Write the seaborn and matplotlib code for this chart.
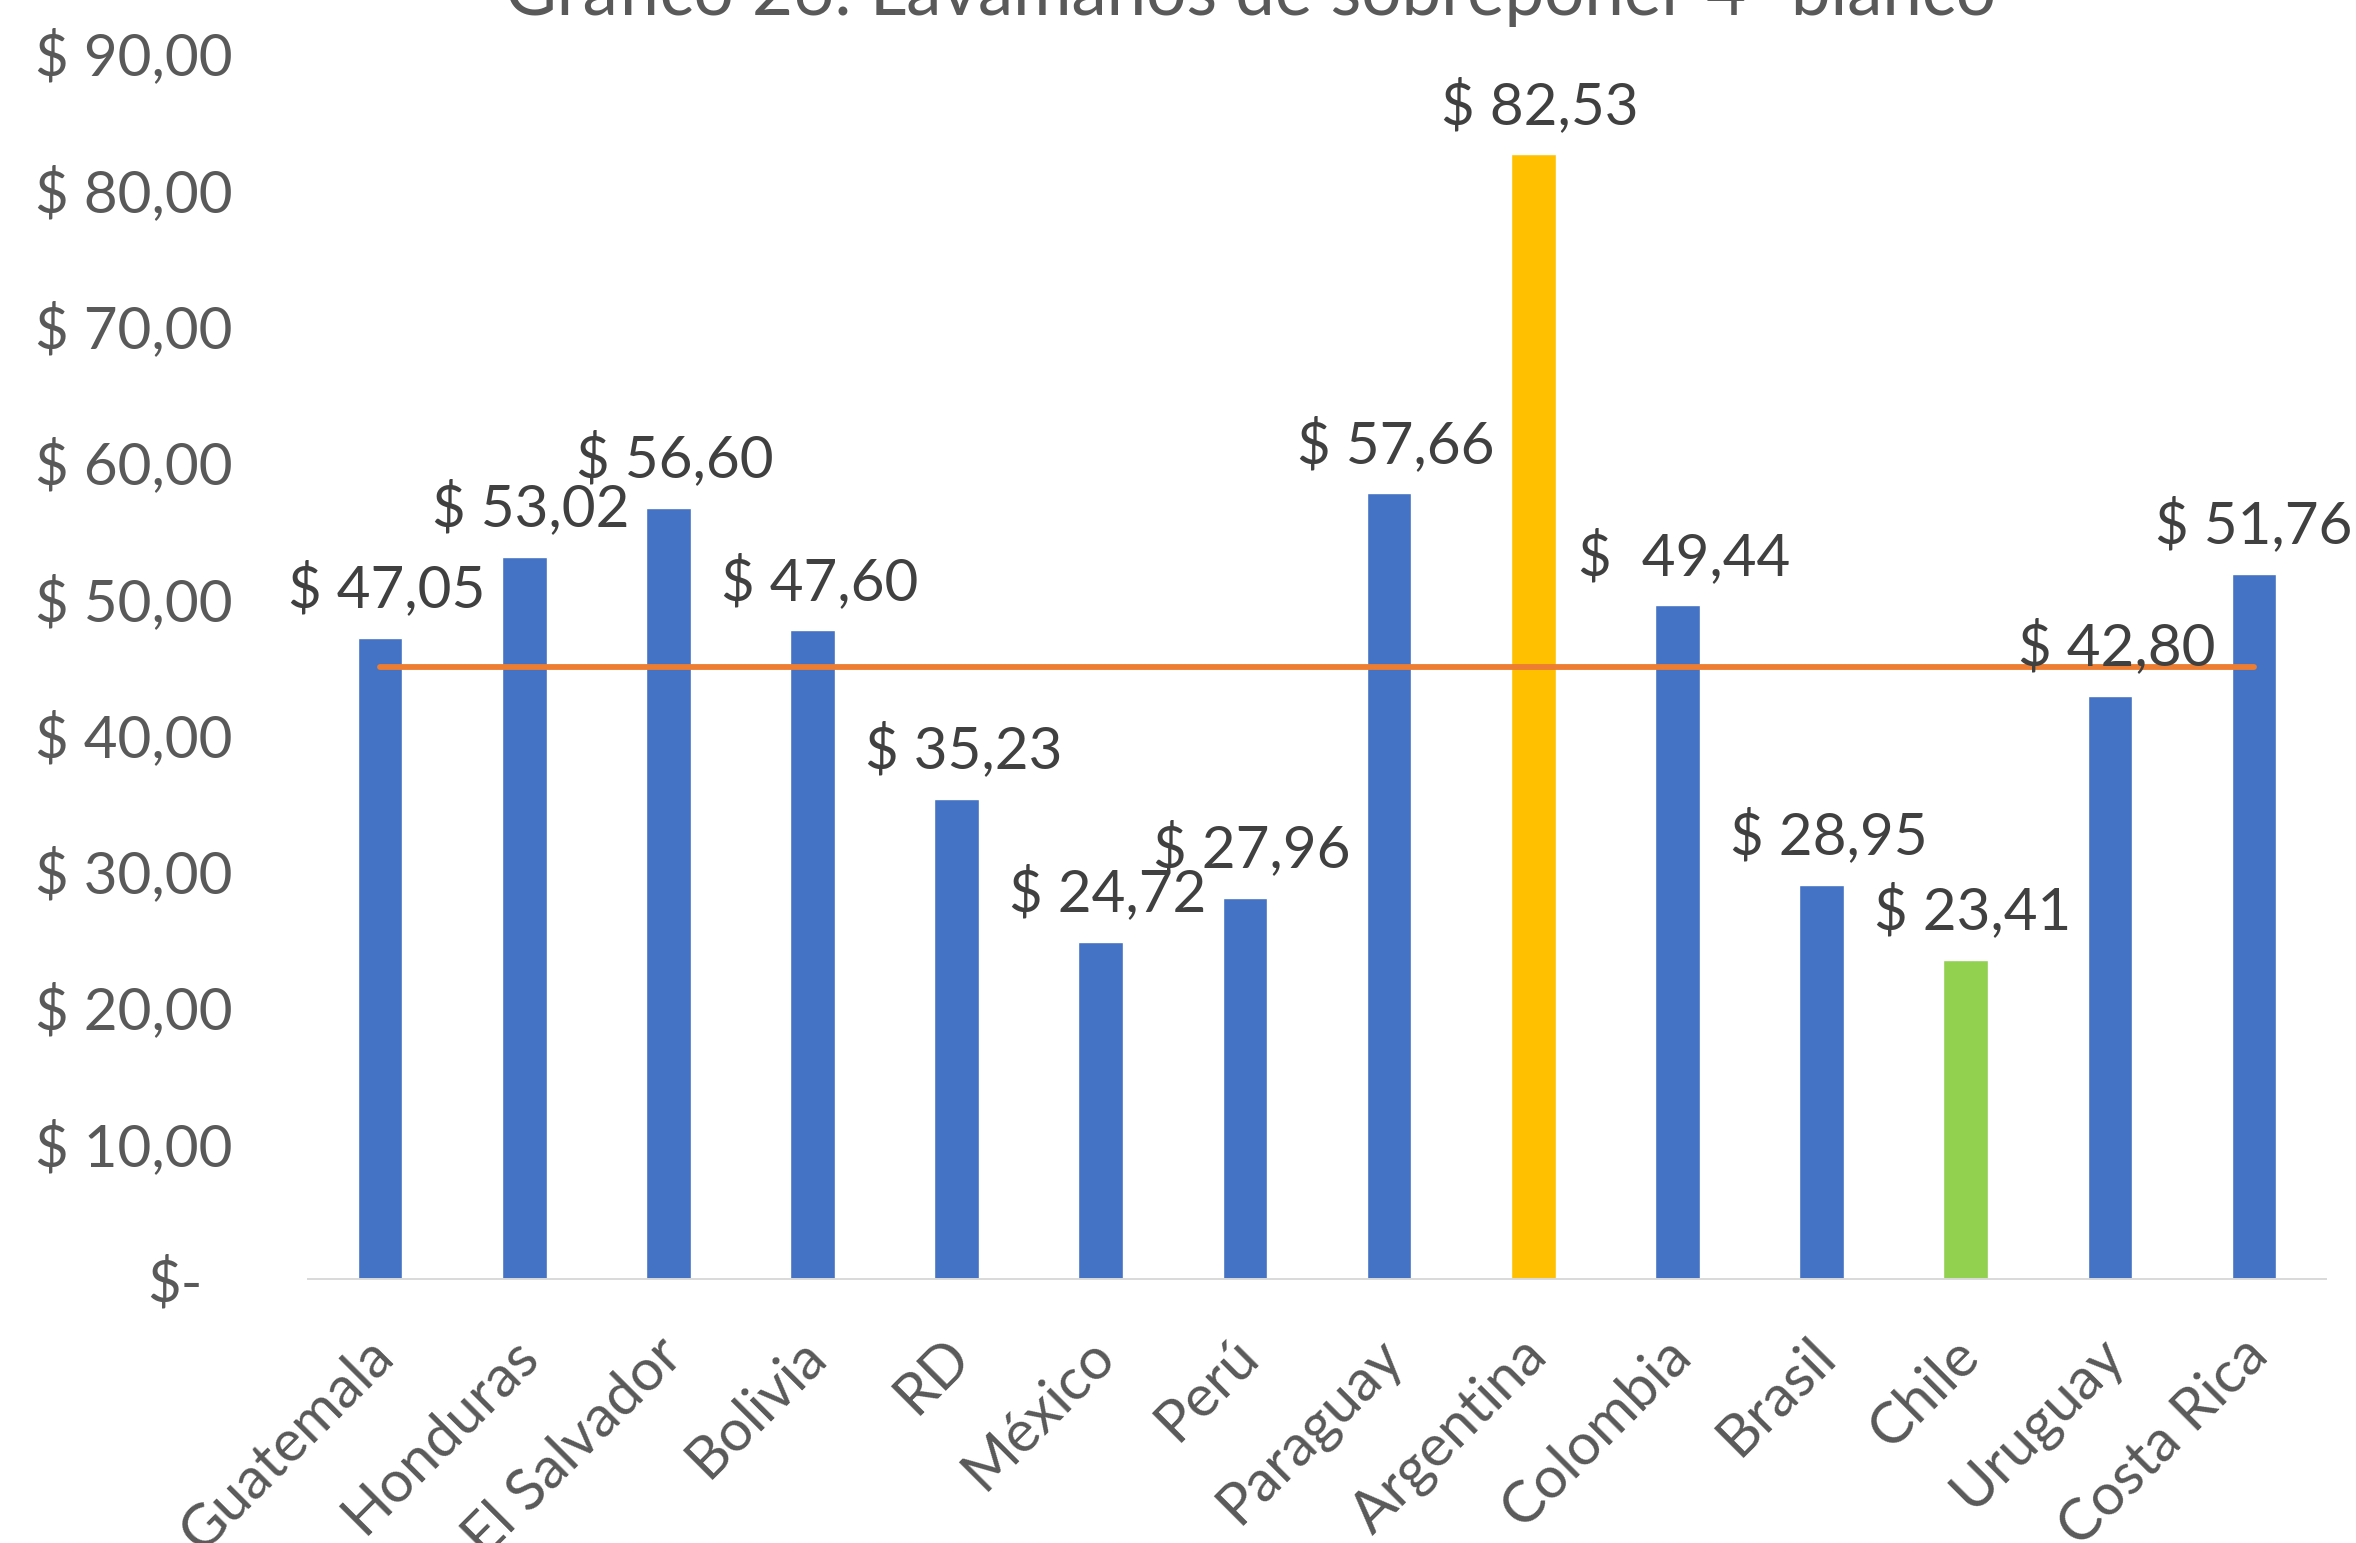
import numpy as np
import matplotlib
matplotlib.use("Agg")
import matplotlib.pyplot as plt
from matplotlib.transforms import ScaledTranslation
import seaborn as sns

# datos
paises = ["Guatemala", "Honduras", "El Salvador", "Bolivia", "RD", "México", "Perú",
          "Paraguay", "Argentina", "Colombia", "Brasil", "Chile", "Uruguay", "Costa Rica"]
precios = [47.05, 53.02, 56.60, 47.60, 35.23, 24.72, 27.96,
           57.66, 82.53, 49.44, 28.95, 23.41, 42.80, 51.76]
etiquetas = ["$ 47,05", "$ 53,02", "$ 56,60", "$ 47,60", "$ 35,23", "$ 24,72", "$ 27,96",
             "$ 57,66", "$ 82,53", "$  49,44", "$ 28,95", "$ 23,41", "$ 42,80", "$ 51,76"]
promedio = 44.91
colores = ["#4472C4"] * 8 + ["#FFC000", "#4472C4", "#4472C4", "#92D050", "#4472C4", "#4472C4"]
yticks = [0, 10, 20, 30, 40, 50, 60, 70, 80, 90]

sns.set_style("white")
plt.rcParams["font.family"] = ["Lato", "DejaVu Sans"]

fig = plt.figure(figsize=(23.56, 15.43), dpi=100)
ax = fig.add_axes([0.1307, 0.1711, 0.8566, 0.7948])

sns.barplot(x=paises, y=precios, hue=paises, palette=colores, width=0.31,
            legend=False, saturation=1, ax=ax)
sns.lineplot(x=np.arange(len(paises)), y=[promedio] * len(paises), color="#ED7D31",
             linewidth=4.2, solid_capstyle="round", ax=ax)

# etiquetas de datos
for i, (v, t) in enumerate(zip(precios, etiquetas)):
    dx = 0 if i == len(paises) - 1 else 5
    ax.annotate(t, (i, v), xytext=(dx, 35), textcoords="offset points",
                ha="center", va="center", fontsize=42, color="#404040")

ax.set_xlim(-0.5, len(paises) - 0.5)
ax.set_ylim(0, 90)
ax.set_xlabel("")
ax.set_ylabel("")

ylabels = ["$-" if t == 0 else f"$ {t:.2f}".replace(".", ",") for t in yticks]
ax.set_yticks(yticks, ylabels)
ax.tick_params(axis="y", length=0, pad=54, labelsize=42, labelcolor="#595959")
ax.tick_params(axis="x", length=0, pad=0, labelsize=42, labelcolor="#595959")
ax.get_yticklabels()[0].set_transform(
    ax.get_yticklabels()[0].get_transform() + ScaledTranslation(-0.30, 0, fig.dpi_scale_trans))

for lbl in ax.get_xticklabels():
    lbl.set_rotation(45)
    lbl.set_ha("right")
    lbl.set_va("center")
    lbl.set_rotation_mode("anchor")
    lbl.set_transform(lbl.get_transform() + ScaledTranslation(0.05, -0.68, fig.dpi_scale_trans))

for s in ["top", "right", "left"]:
    ax.spines[s].set_visible(False)
ax.spines["bottom"].set_color("#D9D9D9")
ax.spines["bottom"].set_linewidth(1.4)
ax.grid(False)

fig.text(0.5306, 0.9903, "Gráfico 26: Lavamanos de sobreponer 4\" blanco",
         ha="center", va="baseline", fontsize=51, color="#595959")

fig.savefig("out.png", dpi=100, facecolor="white")
